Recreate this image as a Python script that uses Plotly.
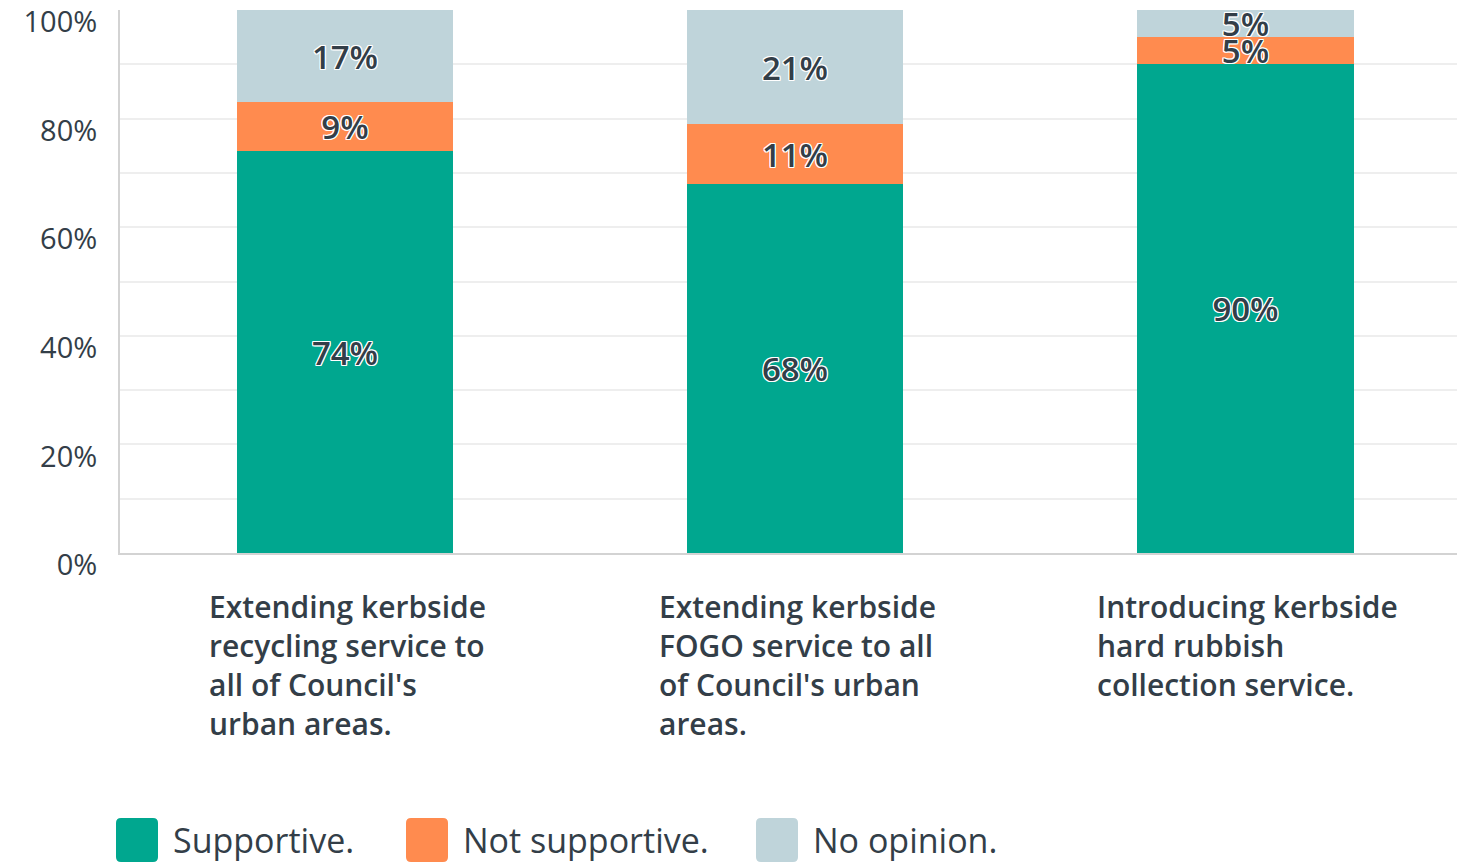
import plotly.graph_objects as go

# Survey responses per proposal (percent of respondents)
categories = [
    "Extending kerbside<br>recycling service to<br>all of Council's<br>urban areas.",
    "Extending kerbside<br>FOGO service to all<br>of Council's urban<br>areas.",
    "Introducing kerbside<br>hard rubbish<br>collection service.",
]
series_names = ["Supportive.", "Not supportive.", "No opinion."]
supportive = [74, 68, 90]
not_supportive = [9, 11, 5]
no_opinion = [17, 21, 5]
y_ticks = [0, 20, 40, 60, 80, 100]
y_tick_labels = ["0%", "20%", "40%", "60%", "80%", "100%"]

colors = ["#00A78F", "#FF8B4F", "#BFD4DA"]
text_color = "#333E48"
font_family = "Open Sans, Roboto, sans-serif"

W, H = 1457, 862
M_L, M_R, M_T, M_B = 120, 0, 10, 309
plot_w = W - M_L - M_R
plot_h = H - M_T - M_B


def px_to_paper_x(px):
    return (px - M_L) / plot_w


def px_to_paper_y(py):
    return (H - M_B - py) / plot_h


outline = ("-1px -1px 0 #fff, 1px -1px 0 #fff, -1px 1px 0 #fff, 1px 1px 0 #fff, "
           "0 -1px 0 #fff, 0 1px 0 #fff, -1px 0 0 #fff, 1px 0 0 #fff")

x_idx = list(range(len(categories)))
fig = go.Figure()
for name, vals, col in zip(series_names, [supportive, not_supportive, no_opinion], colors):
    fig.add_trace(go.Bar(
        x=x_idx,
        y=vals,
        name=name,
        width=0.482,
        marker=dict(color=col, line=dict(width=0)),
        text=[f"{v}%" for v in vals],
        textposition="inside",
        insidetextanchor="middle",
        constraintext="none",
        textangle=0,
        textfont=dict(family=font_family, size=33, color=text_color,
                      weight=600, shadow=outline),
        hoverinfo="skip",
        showlegend=False,
    ))

annotations = []
# Category labels under each bar, left-aligned block
for i, cat in enumerate(categories):
    annotations.append(dict(
        x=i, xref="x", xshift=2, y=px_to_paper_y(584), yref="paper",
        xanchor="center", yanchor="top", align="left",
        text=cat, showarrow=False,
        font=dict(family=font_family, size=30, color=text_color, weight=600),
    ))

# Custom legend with large rounded swatches
shapes = []
legend_swatch_x = [116, 406, 756]
sw, sh, r = 42, 44, 5
y0p, y1p = 818, 818 + sh
for name, col, lx in zip(series_names, colors, legend_swatch_x):
    x0, x1 = px_to_paper_x(lx), px_to_paper_x(lx + sw)
    ya, yb = px_to_paper_y(y1p), px_to_paper_y(y0p)
    rx, ry = r / plot_w, r / plot_h
    path = (f"M{x0 + rx},{ya} L{x1 - rx},{ya} Q{x1},{ya} {x1},{ya + ry} "
            f"L{x1},{yb - ry} Q{x1},{yb} {x1 - rx},{yb} L{x0 + rx},{yb} "
            f"Q{x0},{yb} {x0},{yb - ry} L{x0},{ya + ry} Q{x0},{ya} {x0 + rx},{ya} Z")
    shapes.append(dict(type="path", xref="paper", yref="paper", path=path,
                       fillcolor=col, line=dict(width=0), layer="above"))
    annotations.append(dict(
        x=px_to_paper_x(lx + sw + 13), xref="paper",
        y=px_to_paper_y(840), yref="paper",
        xanchor="left", yanchor="middle", text=name, showarrow=False,
        font=dict(family=font_family, size=34, color=text_color),
    ))

fig.update_layout(
    barmode="stack",
    width=W, height=H,
    margin=dict(l=M_L, r=M_R, t=M_T, b=M_B, pad=0),
    paper_bgcolor="white",
    plot_bgcolor="white",
    showlegend=False,
    annotations=annotations,
    shapes=shapes,
    bargap=0,
)
fig.update_xaxes(
    range=[-0.5, 2.471],
    showticklabels=False,
    showgrid=False,
    zeroline=False,
    showline=True, linecolor="#D3D3D3", linewidth=2,
    fixedrange=True,
)
fig.update_yaxes(
    range=[0, 100],
    tickvals=y_ticks,
    ticktext=y_tick_labels,
    showgrid=True, gridcolor="#EEEEEE", gridwidth=2,
    minor=dict(dtick=10, showgrid=True, gridcolor="#EEEEEE", gridwidth=2),
    zeroline=False,
    showline=True, linecolor="#D3D3D3", linewidth=2,
    ticks="", ticklabelstandoff=15, ticklabelshift=12,
    tickfont=dict(family=font_family, size=29, color=text_color, weight=500),
    fixedrange=True,
)

fig.write_html("out.html", config={"displayModeBar": False})
